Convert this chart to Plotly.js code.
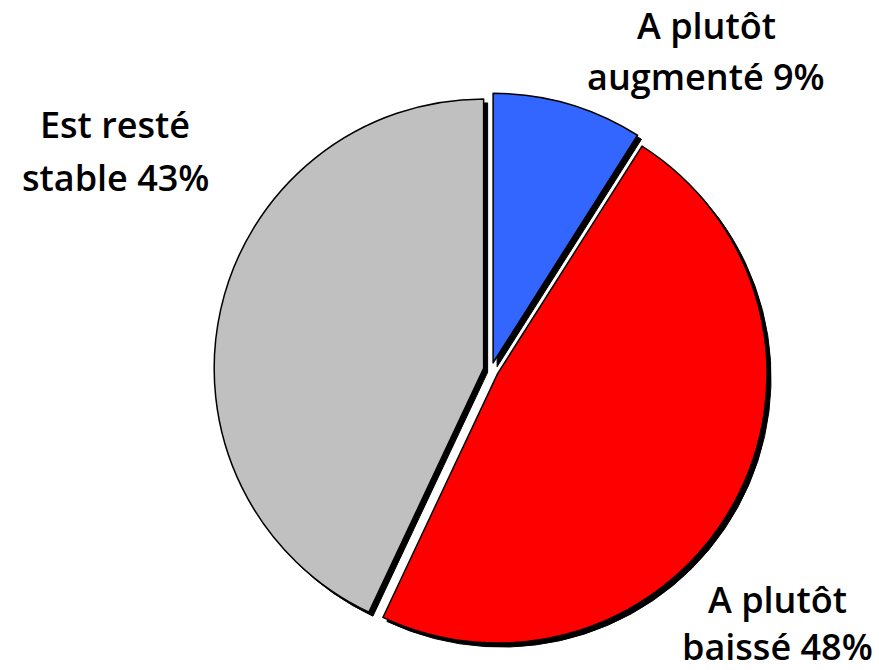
<!DOCTYPE html>
<html><head><meta charset="utf-8">
<script src="https://cdn.plot.ly/plotly-3.0.1.min.js"></script>
<style>html,body{margin:0;padding:0;background:#fff}#chart{width:879px;height:670px}</style>
</head><body><div id="chart"></div>
<script>
const categories = ["A plutôt augmenté", "A plutôt baissé", "Est resté stable"];
const values = [9, 48, 43];
const colors = ["#3366ff", "#ff0000", "#c0c0c0"];
const labelLine1 = ["A plutôt", "A plutôt", "Est resté"];
const labelLine2 = ["augmenté", "baissé", "stable"];

const W = 879, H = 670;
const cx = 491, cy = 370, rd = 277;
const sx = 4, sy = 4;
const dom = (dx, dy) => ({
  x: [(cx - rd + dx) / W, (cx + rd + dx) / W],
  y: [(H - cy - rd - dy) / H, (H - cy + rd - dy) / H]
});
const pull = [0.028, 0.028, 0.028];
const base = {
  type: 'pie', values: values, labels: categories, sort: false,
  direction: 'clockwise', rotation: 0, pull: pull, textinfo: 'none',
  hoverinfo: 'none', showlegend: false
};
const shadow = Object.assign({}, base, {
  domain: dom(sx, sy),
  marker: {colors: ["#000", "#000", "#000"], line: {color: '#000', width: 1}}
});
const main = Object.assign({}, base, {
  domain: dom(0, 0),
  marker: {colors: colors, line: {color: '#000', width: 1.5}}
});

const labelPos = [[706, 26, 76], [777, 599, 646], [115, 124, 177]];
const font = {family: '"Open Sans", "DejaVu Sans", sans-serif', size: 36, color: '#000', weight: 600};
const annotations = [];
categories.forEach((c, i) => {
  const p = labelPos[i];
  annotations.push({x: p[0] / W, y: 1 - p[1] / H, xref: 'paper', yref: 'paper', text: labelLine1[i], showarrow: false, font: font, xanchor: 'center', yanchor: 'middle'});
  annotations.push({x: p[0] / W, y: 1 - p[2] / H, xref: 'paper', yref: 'paper', text: labelLine2[i] + ' ' + values[i] + '%', showarrow: false, font: font, xanchor: 'center', yanchor: 'middle'});
});

Plotly.newPlot('chart', [shadow, main], {
  width: W, height: H, margin: {l: 0, r: 0, t: 0, b: 0},
  paper_bgcolor: '#fff', annotations: annotations
}, {displayModeBar: false, staticPlot: true});
</script></body></html>
